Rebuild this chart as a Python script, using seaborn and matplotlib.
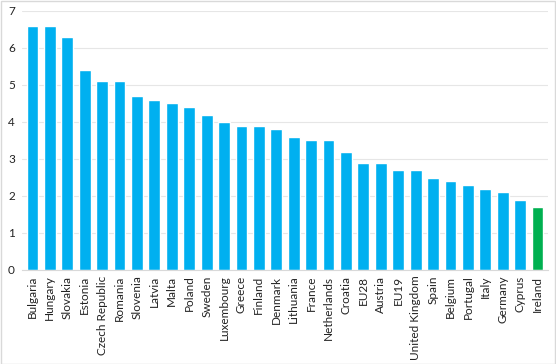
import pandas as pd
import seaborn as sns
import matplotlib.pyplot as plt

countries = ['Bulgaria', 'Hungary', 'Slovakia', 'Estonia', 'Czech Republic', 'Romania',
             'Slovenia', 'Latvia', 'Malta', 'Poland', 'Sweden', 'Luxembourg', 'Greece',
             'Finland', 'Denmark', 'Lithuania', 'France', 'Netherlands', 'Croatia', 'EU28',
             'Austria', 'EU19', 'United Kingdom', 'Spain', 'Belgium', 'Portugal', 'Italy',
             'Germany', 'Cyprus', 'Ireland']
values = [6.6, 6.6, 6.3, 5.4, 5.1, 5.1, 4.7, 4.6, 4.5, 4.4, 4.2, 4.0, 3.9, 3.9, 3.8,
          3.6, 3.5, 3.5, 3.2, 2.9, 2.9, 2.7, 2.7, 2.5, 2.4, 2.3, 2.2, 2.1, 1.9, 1.7]
highlight = 'Ireland'

df = pd.DataFrame({'Country': countries, 'Value': values})

sns.set_style("white")
plt.rcParams['font.family'] = ['Lato', 'DejaVu Sans']

fig = plt.figure(figsize=(5.56, 3.64), dpi=100)
ax = fig.add_axes([22 / 556, 94 / 364, 526 / 556, 259 / 364])

palette = {c: ('#00B050' if c == highlight else '#00B0F0') for c in countries}
sns.barplot(data=df, x='Country', y='Value', hue='Country', palette=palette,
            order=countries, width=0.68, legend=False, saturation=1, ax=ax)

ax.set_ylim(0, 7)
ax.set_xlim(-0.6, len(countries) - 0.4)
ax.set_yticks(range(0, 8))
ax.yaxis.grid(True, color='#e6e6e6', linewidth=0.8)
ax.set_axisbelow(True)
ax.set_xlabel('')
ax.set_ylabel('')
ax.tick_params(axis='x', rotation=90, labelsize=8.5, length=0, pad=4, colors='#222222')
ax.tick_params(axis='y', labelsize=8.5, length=0, pad=10, colors='#222222')
for lbl in ax.get_yticklabels():
    lbl.set_horizontalalignment('left')
for side in ['top', 'right', 'left']:
    ax.spines[side].set_visible(False)
ax.spines['bottom'].set_color('#d9d9d9')

# light frame round the whole chart
fig.patches.append(plt.Rectangle((0.001, 0.001), 0.998, 0.997, transform=fig.transFigure,
                                 fill=False, edgecolor='#d9d9d9', linewidth=1))

plt.savefig('out.png', dpi=100)
